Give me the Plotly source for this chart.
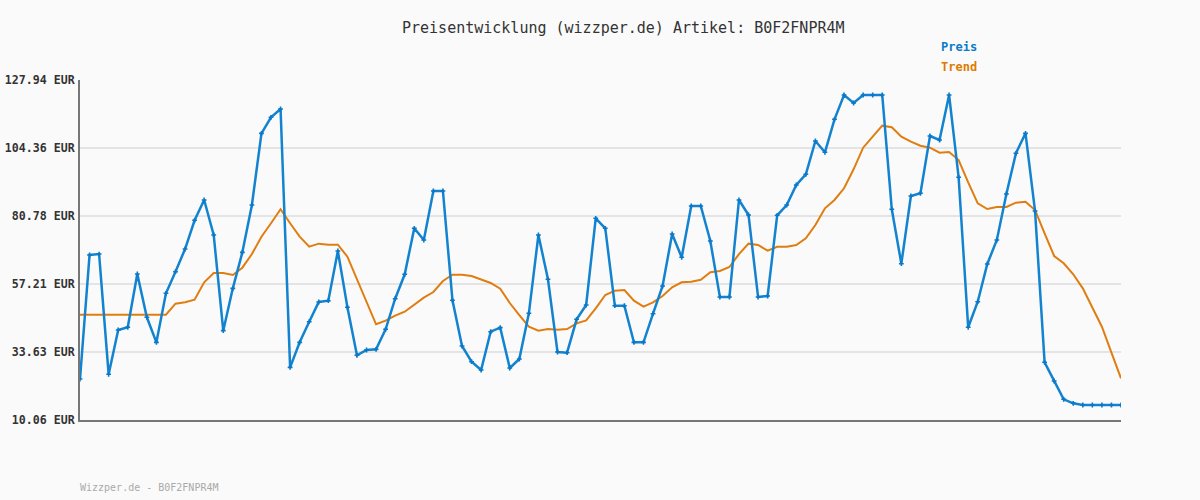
import plotly.graph_objects as go

preis = [24.27, 67.27, 67.6, 25.9, 41.26, 42.2, 60.68, 45.66, 36.99, 53.98,
         61.48, 69.34, 79.29, 86.34, 74.2, 41.03, 55.71, 68.19, 84.6, 109.45,
         115.0, 117.89, 28.32, 36.99, 44.14, 50.97, 51.43, 68.65, 49.13, 32.49,
         34.33, 34.56, 41.5, 52.12, 60.57, 76.52, 72.47, 89.46, 89.46, 51.56,
         35.72, 30.28, 27.4, 40.68, 42.07, 28.09, 31.21, 47.05, 74.2, 58.84,
         33.64, 33.4, 44.97, 49.93, 79.99, 76.52, 49.69, 49.69, 36.99, 36.99,
         46.92, 56.52, 74.55, 66.47, 84.26, 84.26, 72.12, 52.71, 52.71, 86.34,
         81.14, 52.71, 53.05, 81.03, 84.6, 91.54, 95.25, 106.79, 102.87, 114.31,
         122.74, 119.97, 122.74, 122.74, 122.74, 83.11, 64.25, 87.72, 88.66, 108.52,
         107.14, 122.74, 94.2, 42.2, 51.08, 64.15, 72.47, 88.42, 102.53, 109.45,
         82.52, 30.06, 23.58, 17.24, 15.85, 15.26, 15.26, 15.26, 15.26, 15.26]

trend = [46.57, 46.57, 46.57, 46.57, 46.57, 46.57, 46.57, 46.57, 46.57, 46.57,
         50.38, 50.86, 51.77, 57.8, 61.03, 61.03, 60.33, 62.87, 67.6, 73.61,
         78.26, 83.11, 78.26, 73.61, 70.14, 71.2, 70.84, 70.84, 66.68, 58.94,
         51.08, 43.24, 44.49, 46.22, 47.6, 50.17, 52.47, 54.44, 58.25, 60.44,
         60.44, 59.98, 58.7, 57.56, 55.58, 50.62, 46.46, 42.41, 41.03, 41.61,
         41.37, 41.61, 43.58, 44.6, 48.78, 53.4, 54.89, 55.13, 51.43, 49.35,
         50.86, 53.05, 56.06, 57.8, 58.01, 58.7, 61.27, 61.72, 63.11, 67.6,
         71.2, 70.74, 68.76, 70.14, 70.14, 70.74, 73.05, 77.67, 83.46, 86.34,
         90.39, 96.98, 104.47, 108.28, 112.1, 111.54, 108.28, 106.55, 105.16, 104.47,
         102.73, 102.98, 100.2, 92.47, 85.19, 83.21, 83.91, 83.91, 85.4, 85.75,
         82.87, 74.79, 66.92, 64.38, 60.57, 55.71, 49.13, 42.41, 33.4, 24.5]

tick_vals = [10.06, 33.63, 57.21, 80.78, 104.36, 127.94]
tick_text = ["10.06 EUR", "33.63 EUR", "57.21 EUR", "80.78 EUR", "104.36 EUR", "127.94 EUR"]

title_text = "Preisentwicklung (wizzper.de) Artikel: B0F2FNPR4M"
footer_text = "Wizzper.de - B0F2FNPR4M"

BLUE = "#1383d0"
ORANGE = "#e07d10"
MONO = "DejaVu Sans Mono, Liberation Mono, monospace"

x = list(range(len(preis)))

fig = go.Figure()
fig.add_trace(go.Scatter(x=x, y=trend, mode="lines", name="Trend",
                         line=dict(color=ORANGE, width=2), hoverinfo="skip"))
fig.add_trace(go.Scatter(x=x, y=preis, mode="lines+markers", name="Preis",
                         line=dict(color=BLUE, width=2.5),
                         marker=dict(symbol="cross", size=4, color="#0a78c8",
                                     line=dict(width=0))))

fig.update_layout(
    width=1200, height=500,
    margin=dict(l=80, r=79, t=80, b=80, autoexpand=False),
    paper_bgcolor="#fafafa", plot_bgcolor="#fafafa",
    showlegend=False,
    font=dict(family=MONO, size=12, color="#333"),
    xaxis=dict(range=[0, len(preis) - 1], showgrid=False, zeroline=False,
               showticklabels=False, ticks="", showline=True,
               linecolor="#777", linewidth=2, automargin=False),
    yaxis=dict(range=[tick_vals[0], tick_vals[-1]], tickmode="array",
               tickvals=tick_vals, ticktext=tick_text, showgrid=True,
               gridcolor="#e4e4e4", gridwidth=2, zeroline=False,
               showline=True, linecolor="#777", linewidth=2, ticks="",
               ticklabelstandoff=1, automargin=False,
               tickfont=dict(family=MONO, size=11.6, color="#333", weight="bold")),
    annotations=[
        dict(text=title_text, xref="paper", yref="paper", x=(623 - 80) / 1041,
             y=1 + (80 - 28) / 340, xanchor="center", yanchor="middle",
             showarrow=False, font=dict(family=MONO, size=15, color="#333")),
        dict(text="<b>Preis</b>", xref="paper", yref="paper", x=(939 - 80) / 1041,
             y=1 + (80 - 47) / 340, xanchor="left", yanchor="middle",
             showarrow=False, font=dict(family=MONO, size=12, color="#0a7bc8")),
        dict(text="<b>Trend</b>", xref="paper", yref="paper", x=(939 - 80) / 1041,
             y=1 + (80 - 67) / 340, xanchor="left", yanchor="middle",
             showarrow=False, font=dict(family=MONO, size=12, color="#de7a00")),
        dict(text=footer_text, xref="paper", yref="paper", x=-2 / 1041,
             y=-(487 - 420) / 340, xanchor="left", yanchor="middle",
             showarrow=False, font=dict(family=MONO, size=10, color="#aaaaaa")),
    ],
)

fig.write_html(
    "out.html",
    config={"displayModeBar": False},
    post_script="document.body.style.margin='0';document.body.style.background='#fafafa';",
)
